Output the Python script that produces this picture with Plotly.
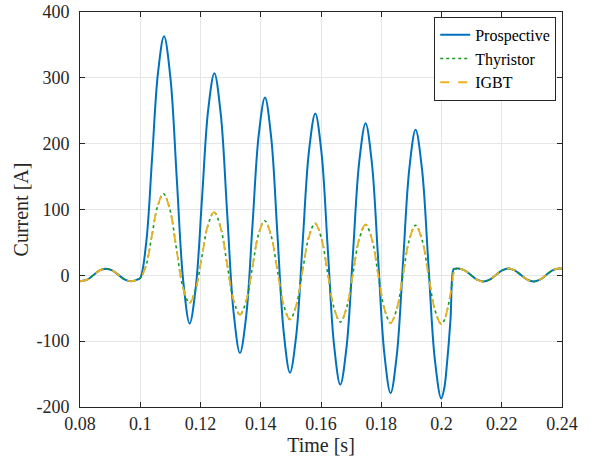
import plotly.graph_objects as go

# ---- data (time in s, current in A) ----
pre_t = [0.0800, 0.0824, 0.0845, 0.0865, 0.0886, 0.0907, 0.0928, 0.0949, 0.0970, 0.0990, 0.1000]
pre_i = [-9.0, -6.5, 0.5, 7.5, 10.0, 7.5, 0.5, -6.5, -9.0, -6.5, -4.0]

prosp_t = [0.10198, 0.10395, 0.10593, 0.1079,
           0.11003, 0.11215, 0.11428, 0.1164,
           0.11845, 0.1205, 0.12255, 0.1246,
           0.12673, 0.12885, 0.13098, 0.1331,
           0.13518, 0.13725, 0.13933, 0.1414,
           0.14348, 0.14555, 0.14763, 0.1497,
           0.1518, 0.1539, 0.1560, 0.1581,
           0.16018, 0.16225, 0.16433, 0.1664,
           0.1685, 0.1706, 0.1727, 0.1748,
           0.17688, 0.17895, 0.18103, 0.1831,
           0.18518, 0.18725, 0.18933, 0.1914,
           0.19353, 0.19565, 0.19778, 0.1999,
           0.2009, 0.2019, 0.2030, 0.2040]
prosp_i = [49.7, 179.5, 309.3, 363.0,
           299.1, 145.0, -9.1, -73.0,
           -17.4, 117.0, 251.4, 307.0,
           244.8, 94.5, -55.8, -118.0,
           -61.2, 76.0, 213.2, 270.0,
           208.8, 61.0, -86.8, -148.0,
           -90.3, 49.0, 188.3, 246.0,
           185.7, 40.0, -105.7, -166.0,
           -107.9, 32.5, 172.9, 231.0,
           171.0, 26.0, -119.0, -179.0,
           -120.4, 21.0, 162.4, 221.0,
           161.2, 17.0, -127.2, -187.0,
           -172.0, -130.0, -66.0, 9.0]

thy_t = [0.10193, 0.10385, 0.10578, 0.1077,
         0.10985, 0.1120, 0.11415, 0.1163,
         0.11835, 0.1204, 0.12245, 0.1245,
         0.12665, 0.1288, 0.13095, 0.1331,
         0.13515, 0.1372, 0.13925, 0.1413,
         0.1434, 0.1455, 0.1476, 0.1497,
         0.15178, 0.15385, 0.15593, 0.1580,
         0.1601, 0.1622, 0.1643, 0.1664,
         0.1685, 0.1706, 0.1727, 0.1748,
         0.17688, 0.17895, 0.18103, 0.1831,
         0.18518, 0.18725, 0.18933, 0.1914,
         0.19353, 0.19565, 0.19778, 0.1999,
         0.2010, 0.2021, 0.2032, 0.2043]
thy_i = [14.7, 60.0, 105.3, 124.0,
         99.7, 41.0, -17.7, -42.0,
         -21.8, 27.0, 75.8, 96.0,
         73.2, 18.0, -37.2, -60.0,
         -39.1, 11.5, 62.1, 83.0,
         61.0, 8.0, -45.0, -67.0,
         -45.6, 6.0, 57.6, 79.0,
         57.0, 4.0, -49.0, -71.0,
         -49.3, 3.0, 55.3, 77.0,
         55.1, 2.3, -50.6, -72.5,
         -50.8, 1.8, 54.3, 76.0,
         54.0, 1.0, -52.0, -74.0,
         -67.5, -49.0, -22.0, 9.0]

igbt_t = list(thy_t)
igbt_i = list(thy_i)

post_t = [0.2046, 0.2056, 0.20768, 0.20975, 0.21183, 0.2139,
          0.21598, 0.21805, 0.22013, 0.2222,
          0.2243, 0.2264, 0.2285, 0.2306,
          0.23268, 0.23475, 0.23683, 0.2389, 0.2400]
post_i = [10.0, 10.5, 7.6, 0.5, -6.6, -9.5,
          -6.6, 0.5, 7.6, 10.5,
          7.6, 0.5, -6.6, -9.5,
          -6.6, 0.5, 7.6, 10.5, 10.0]

x_ticks = [0.08, 0.10, 0.12, 0.14, 0.16, 0.18, 0.20, 0.22, 0.24]
x_labels = ["0.08", "0.1", "0.12", "0.14", "0.16", "0.18", "0.2", "0.22", "0.24"]
y_ticks = [-200, -100, 0, 100, 200, 300, 400]
y_labels = ["-200", "-100", "0", "100", "200", "300", "400"]

FONT = "Liberation Serif"

fig = go.Figure()
series = [
    ("Prospective", prosp_t, prosp_i, dict(color="#0072BD", width=2, dash="solid")),
    ("Thyristor", thy_t, thy_i, dict(color="#1a9a1a", width=1.6, dash="dot")),
    ("IGBT", igbt_t, igbt_i, dict(color="#EDB120", width=1.8, dash="dash")),
]
for name, t, i, ln in series:
    fig.add_trace(go.Scatter(
        x=pre_t + t + post_t, y=pre_i + i + post_i, mode="lines", name=name,
        line=dict(shape="spline", smoothing=1.0, **ln)))

axis_common = dict(showline=True, linecolor="#262626", linewidth=1, mirror="ticks",
                   ticks="inside", ticklen=5, tickcolor="#262626", automargin=False,
                   showgrid=True, gridcolor="#e6e6e6", gridwidth=1, zeroline=False,
                   tickfont=dict(family=FONT, size=18, color="#262626"))

fig.update_layout(
    width=590, height=462,
    margin=dict(l=80, r=28, t=12, b=55),
    paper_bgcolor="white", plot_bgcolor="white",
    font=dict(family=FONT, size=18, color="#262626"),
    xaxis=dict(range=[0.08, 0.24], tickvals=x_ticks, ticktext=x_labels,
               title=dict(text="Time [s]", font=dict(family=FONT, size=20), standoff=2),
               **axis_common),
    yaxis=dict(range=[-200, 400], tickvals=y_ticks, ticktext=y_labels,
               ticklabelstandoff=6,
               title=dict(text="Current [A]", font=dict(family=FONT, size=20), standoff=2),
               **axis_common),
    legend=dict(x=0.988, y=0.988, xanchor="right", yanchor="top",
                bgcolor="white", bordercolor="#262626", borderwidth=1,
                font=dict(family=FONT, size=16, color="#000000"),
                tracegroupgap=0, itemwidth=30),
    showlegend=True,
)

# remove the browser's default 8 px body margin so the figure fills the window
fig.write_html("out.html",
               config={"displayModeBar": False},
               post_script="document.body.style.margin='0';document.body.style.overflow='hidden';")
